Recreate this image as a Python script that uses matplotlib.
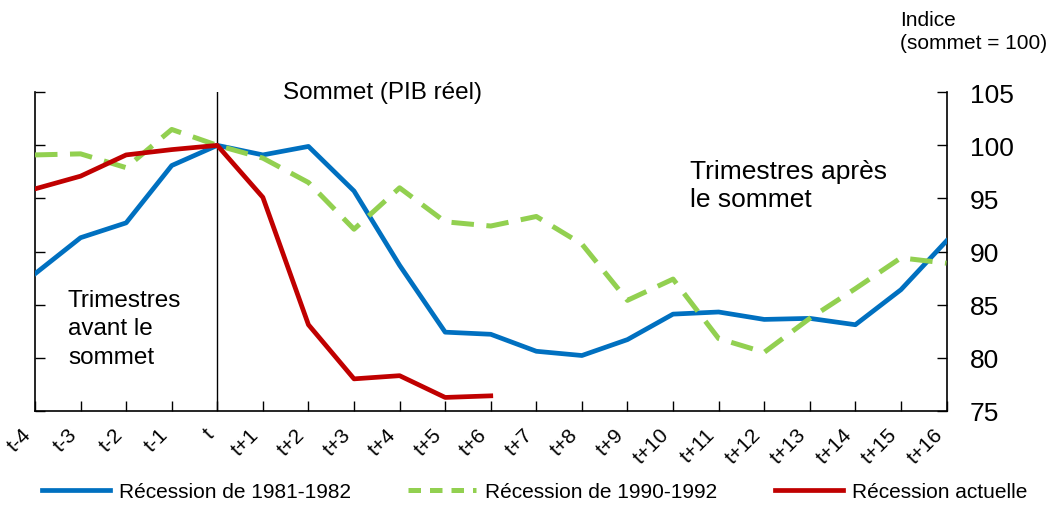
import matplotlib
matplotlib.use("Agg")
import matplotlib.pyplot as plt
import matplotlib.transforms as mtransforms
from matplotlib.lines import Line2D

FONT = 'Liberation Sans'

quarters = ["t-4", "t-3", "t-2", "t-1", "t", "t+1", "t+2", "t+3", "t+4", "t+5", "t+6",
            "t+7", "t+8", "t+9", "t+10", "t+11", "t+12", "t+13", "t+14", "t+15", "t+16"]
rec_1981 = [87.9, 91.3, 92.7, 98.1, 100.0, 99.1, 99.9, 95.7, 88.7, 82.4, 82.2,
            80.6, 80.2, 81.7, 84.1, 84.3, 83.6, 83.7, 83.1, 86.4, 91.0]
rec_1990 = [99.1, 99.2, 97.9, 101.5, 100.0, 98.8, 96.5, 92.1, 96.0, 92.8, 92.4,
            93.3, 90.7, 85.4, 87.4, 81.8, 80.5, 83.7, 86.5, 89.4, 88.9]
rec_now = [95.9, 97.1, 99.1, 99.6, 100.0, 95.1, 83.1, 78.0, 78.3, 76.25, 76.4]
yticks = [75, 80, 85, 90, 95, 100, 105]

BLUE = "#0070C0"
GREEN = "#92D050"
RED = "#C00000"

fig = plt.figure(figsize=(10.5, 5.06), dpi=100)
ax = fig.add_axes([35/1050, 1-411.7/506, (946.5-35)/1050, (411.7-93.3)/506])

x = list(range(len(quarters)))
ax.plot(x, rec_1981, color=BLUE, lw=3.4, zorder=3)
ax.plot(x, rec_1990, color=GREEN, lw=3.6, dashes=(4.5, 2.5), zorder=3)
ax.plot(x[:len(rec_now)], rec_now, color=RED, lw=3.4, zorder=4)
ax.axvline(4, color='black', lw=1.0, zorder=2)

ax.set_xlim(0, len(quarters)-1)
ax.set_ylim(75, 105)
ax.set_xticks(x)
ax.set_xticklabels(quarters, rotation=45, ha='right', fontfamily=FONT, fontsize=15)
offset = mtransforms.ScaledTranslation(7/100, 0, fig.dpi_scale_trans)
for lbl in ax.get_xticklabels():
    lbl.set_transform(lbl.get_transform() + offset)
ax.tick_params(axis='x', direction='in', length=7, width=1, pad=10)

ax.set_yticks(yticks)
ax.yaxis.set_ticks_position('both')
ax.tick_params(axis='y', direction='in', length=7, width=1, labelleft=False,
               labelright=True, labelsize=19, pad=17)
for lbl in ax.get_yticklabels():
    lbl.set_fontfamily(FONT)
    lbl.set_horizontalalignment('left')

ax.spines['top'].set_visible(False)
for s in ['left', 'right', 'bottom']:
    ax.spines[s].set_linewidth(1.2)

fig.text(283/1050, 1-93/506, "Sommet (PIB réel)",
         fontfamily=FONT, fontsize=17.5, va='center', ha='left')
fig.text(68/1050, 1-290/506, "Trimestres\navant le\nsommet",
         fontfamily=FONT, fontsize=17.5, va='top', ha='left', linespacing=1.38)
fig.text(690/1050, 1-160/506, "Trimestres après\nle sommet",
         fontfamily=FONT, fontsize=19, va='top', ha='left', linespacing=1.2)
fig.text(900/1050, 1-11/506, "Indice\n(sommet = 100)", fontfamily=FONT, fontsize=15,
         va='top', ha='left', linespacing=1.25)

handles = [Line2D([], [], color=BLUE, lw=3.4),
           Line2D([], [], color=GREEN, lw=3.6, dashes=(2.5, 1.8)),
           Line2D([], [], color=RED, lw=3.4)]
labels = ["Récession de 1981-1982", "Récession de 1990-1992", "Récession actuelle"]
fig.legend(handles, labels, loc='center left', bbox_to_anchor=(42/1050, 1-493/506),
           ncol=3, frameon=False, handlelength=3.25, handletextpad=0.45,
           columnspacing=2.75, prop={'family': FONT, 'size': 15}, borderaxespad=0,
           borderpad=0)

fig.savefig("out.png", dpi=100)
